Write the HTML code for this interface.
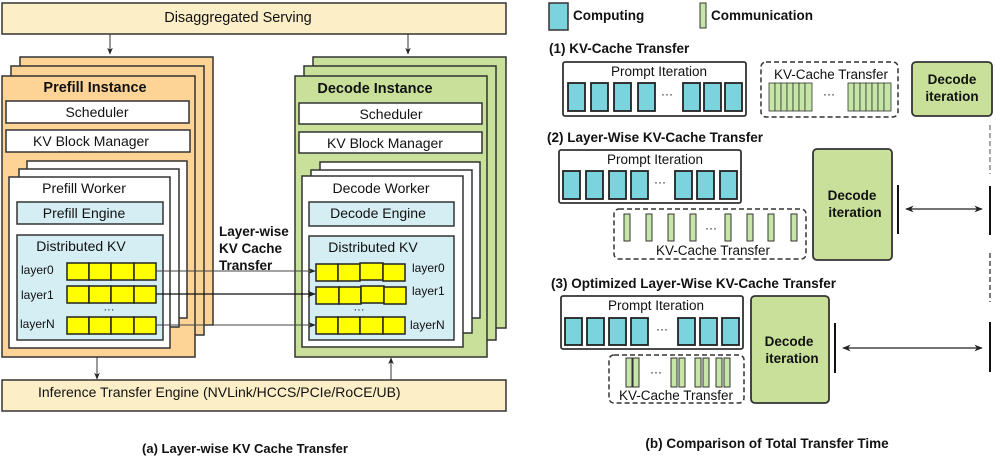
<!DOCTYPE html>
<html><head><meta charset="utf-8"><style>
html,body{margin:0;padding:0;background:#fff;}
svg{display:block;}
text{font-family:"Liberation Sans",sans-serif;fill:#111;}
.b{font-weight:bold;}
</style></head><body>
<svg width="996" height="466" viewBox="0 0 996 466" xmlns="http://www.w3.org/2000/svg">
<defs>
<marker id="ar" viewBox="0 0 10 10" refX="9" refY="5" markerWidth="7" markerHeight="7" orient="auto-start-reverse"><path d="M0,1 L10,5 L0,9 L3,5 z" fill="#222"/></marker>
</defs>
<rect x="2" y="3" width="504" height="31" fill="#fcefc8" stroke="#333" stroke-width="1.5"/>
<text x="238" y="22" font-size="14.5" text-anchor="middle">Disaggregated Serving</text>
<line x1="110" y1="34" x2="110" y2="54" stroke="#333" marker-end="url(#ar)"/>
<line x1="408" y1="34" x2="408" y2="54" stroke="#333" marker-end="url(#ar)"/>

<rect x="20" y="57" width="193" height="268" fill="#fdd495" stroke="#333" stroke-width="1.5"/>
<rect x="11" y="66" width="193" height="269" fill="#fdd495" stroke="#333" stroke-width="1.5"/>
<rect x="2" y="76" width="193" height="281" fill="#fdd495" stroke="#333" stroke-width="1.5"/>
<text x="95" y="92" font-size="14.5" class="b" text-anchor="middle">Prefill Instance</text>
<rect x="6" y="101" width="183" height="22" fill="#fff" stroke="#333" stroke-width="1.5"/>
<text x="97" y="117" font-size="14" text-anchor="middle">Scheduler</text>
<rect x="6" y="130" width="184" height="22" fill="#fff" stroke="#333" stroke-width="1.5"/>
<text x="91" y="146" font-size="14" text-anchor="middle">KV Block Manager</text>
<rect x="27" y="161" width="160" height="157" fill="#fff" stroke="#333" stroke-width="1.5"/>
<rect x="19" y="169" width="160" height="158" fill="#fff" stroke="#333" stroke-width="1.5"/>
<rect x="9" y="177" width="161" height="171" fill="#fff" stroke="#333" stroke-width="1.5"/>
<text x="84" y="193" font-size="14" text-anchor="middle">Prefill Worker</text>
<rect x="17" y="202" width="146" height="22" fill="#d4eef3" stroke="#333" stroke-width="1.5"/>
<text x="84" y="218" font-size="14" text-anchor="middle">Prefill Engine</text>
<rect x="17" y="235" width="146" height="105" fill="#d4eef3" stroke="#333" stroke-width="1.5"/>
<text x="81" y="251" font-size="14" text-anchor="middle">Distributed KV</text>
<g font-size="12">
<text x="21" y="274">layer0</text>
<text x="21" y="299">layer1</text>
<text x="20" y="328">layerN</text>
</g>
<text x="109" y="313" font-size="11" text-anchor="middle">···</text>
<g fill="#ffff00" stroke="#222" stroke-width="1.5">
<rect x="67" y="263" width="22" height="17"/><rect x="89" y="263" width="22" height="17"/><rect x="111" y="263" width="23" height="17"/><rect x="134" y="263" width="22" height="17"/>
<rect x="67" y="286" width="22" height="17"/><rect x="89" y="286" width="22" height="17"/><rect x="111" y="286" width="23" height="17"/><rect x="134" y="286" width="22" height="17"/>
<rect x="67" y="317" width="22" height="17"/><rect x="89" y="317" width="22" height="17"/><rect x="111" y="317" width="23" height="17"/><rect x="134" y="317" width="22" height="17"/>
</g>

<rect x="313" y="57" width="193" height="271" fill="#c9e09a" stroke="#333" stroke-width="1.5"/>
<rect x="304" y="66" width="192" height="274" fill="#c9e09a" stroke="#333" stroke-width="1.5"/>
<rect x="295" y="76" width="192" height="281" fill="#c9e09a" stroke="#333" stroke-width="1.5"/>
<text x="375" y="93" font-size="14.5" class="b" text-anchor="middle">Decode Instance</text>
<rect x="299" y="103" width="183" height="21" fill="#fff" stroke="#333" stroke-width="1.5"/>
<text x="391" y="119" font-size="14" text-anchor="middle">Scheduler</text>
<rect x="299" y="132" width="183" height="21" fill="#fff" stroke="#333" stroke-width="1.5"/>
<text x="385" y="148" font-size="14" text-anchor="middle">KV Block Manager</text>
<rect x="320" y="162" width="160" height="156" fill="#fff" stroke="#333" stroke-width="1.5"/>
<rect x="311" y="170" width="161" height="163" fill="#fff" stroke="#333" stroke-width="1.5"/>
<rect x="302" y="176" width="161" height="171" fill="#fff" stroke="#333" stroke-width="1.5"/>
<text x="381" y="193" font-size="14" text-anchor="middle">Decode Worker</text>
<rect x="309" y="202" width="145" height="24" fill="#d4eef3" stroke="#333" stroke-width="1.5"/>
<text x="378" y="218" font-size="14" text-anchor="middle">Decode Engine</text>
<rect x="309" y="236" width="145" height="104" fill="#d4eef3" stroke="#333" stroke-width="1.5"/>
<text x="373" y="252" font-size="14" text-anchor="middle">Distributed KV</text>
<g font-size="12">
<text x="412" y="272">layer0</text>
<text x="412" y="295">layer1</text>
<text x="410" y="329">layerN</text>
</g>
<text x="359" y="313" font-size="11" text-anchor="middle">···</text>
<g fill="#ffff00" stroke="#222" stroke-width="1.5">
<rect x="316" y="264" width="22" height="17"/><rect x="338" y="264" width="22" height="17"/><rect x="360" y="263" width="23" height="17"/><rect x="383" y="264" width="22" height="17"/>
<rect x="316" y="287" width="23" height="17"/><rect x="339" y="287" width="22" height="17"/><rect x="361" y="286" width="23" height="17"/><rect x="384" y="287" width="22" height="17"/>
<rect x="316" y="317" width="22" height="17"/><rect x="338" y="317" width="22" height="17"/><rect x="360" y="317" width="23" height="17"/><rect x="383" y="317" width="22" height="17"/>
</g>
<line x1="156" y1="271" x2="315" y2="271" stroke="#444" stroke-width="1" marker-end="url(#ar)"/>
<line x1="156" y1="294" x2="315" y2="294" stroke="#111" stroke-width="1.2" marker-end="url(#ar)"/>
<line x1="156" y1="325" x2="315" y2="325" stroke="#444" stroke-width="1" marker-end="url(#ar)"/>
<g font-size="13.5" class="b">
<text x="219" y="236" class="b">Layer-wise</text>
<text x="219" y="253" class="b">KV Cache</text>
<text x="219" y="270" class="b">Transfer</text>
</g>

<rect x="2" y="380" width="504" height="31" fill="#fcefc8" stroke="#333" stroke-width="1.5"/>
<text x="38" y="397" font-size="14">Inference Transfer Engine (NVLink/HCCS/PCIe/RoCE/UB)</text>
<line x1="97" y1="357" x2="97" y2="379" stroke="#333" marker-end="url(#ar)"/>
<line x1="391" y1="380" x2="391" y2="358" stroke="#333" marker-end="url(#ar)"/>
<text x="245" y="453" font-size="13" class="b" text-anchor="middle">(a) Layer-wise KV Cache Transfer</text>

<rect x="549" y="3" width="19" height="27" fill="#7ad3dd" stroke="#333" stroke-width="1.5"/>
<text x="573" y="20" font-size="13.5" class="b">Computing</text>
<rect x="700" y="3" width="6" height="25" fill="#c5e6a6" stroke="#333" stroke-width="1"/>
<text x="711" y="20" font-size="13.5" class="b">Communication</text>

<text x="549" y="53" font-size="13.5" class="b">(1) KV-Cache Transfer</text>
<rect x="563" y="62" width="183" height="54" rx="2" fill="#fff" stroke="#333" stroke-width="1.8"/>
<text x="659" y="76" font-size="13.5" text-anchor="middle">Prompt Iteration</text>
<g fill="#7ad3dd" stroke="#222" stroke-width="1.8">
<rect x="568" y="83" width="17" height="28"/><rect x="591" y="83" width="17" height="28"/><rect x="614" y="83" width="17" height="28"/><rect x="638" y="83" width="17" height="28"/>
<rect x="683" y="83" width="17" height="28"/><rect x="704" y="83" width="17" height="28"/><rect x="725" y="83" width="17" height="28"/>
</g>
<text x="667" y="98" font-size="12" text-anchor="middle">···</text>
<rect x="761" y="62" width="137" height="55" rx="5" fill="#fff" stroke="#333" stroke-width="1.5" stroke-dasharray="5,3"/>
<text x="831" y="79" font-size="13.5" text-anchor="middle">KV-Cache Transfer</text>
<g fill="#c5e6a6" stroke="#333" stroke-width="0.8">
<rect x="769" y="83" width="6" height="28"/><rect x="775" y="83" width="6" height="28"/><rect x="781" y="83" width="6" height="28"/><rect x="787" y="83" width="6" height="28"/><rect x="793" y="83" width="6" height="28"/><rect x="799" y="83" width="6" height="28"/><rect x="805" y="83" width="7" height="28"/>
<rect x="848" y="83" width="6" height="28"/><rect x="854" y="83" width="6" height="28"/><rect x="860" y="83" width="6" height="28"/><rect x="866" y="83" width="6" height="28"/><rect x="872" y="83" width="6" height="28"/><rect x="878" y="83" width="6" height="28"/><rect x="884" y="83" width="7" height="28"/>
</g>
<text x="829" y="98" font-size="12" text-anchor="middle">···</text>
<rect x="912" y="62" width="80" height="54" rx="4" fill="#c9e09a" stroke="#333" stroke-width="1.8"/>
<text x="952" y="84" font-size="13.5" class="b" text-anchor="middle">Decode</text>
<text x="952" y="101" font-size="13.5" class="b" text-anchor="middle">iteration</text>
<line x1="990" y1="125" x2="990" y2="174" stroke="#888" stroke-width="1.5" stroke-dasharray="5,3"/>

<text x="547" y="142" font-size="13.5" class="b">(2) Layer-Wise KV-Cache Transfer</text>
<rect x="559" y="150" width="182" height="53" rx="2" fill="#fff" stroke="#333" stroke-width="1.8"/>
<text x="655" y="164" font-size="13.5" text-anchor="middle">Prompt Iteration</text>
<g fill="#7ad3dd" stroke="#222" stroke-width="1.8">
<rect x="563" y="171" width="17" height="28"/><rect x="586" y="171" width="17" height="28"/><rect x="609" y="171" width="17" height="28"/><rect x="631" y="171" width="17" height="28"/>
<rect x="675" y="171" width="17" height="28"/><rect x="697" y="171" width="17" height="28"/><rect x="720" y="171" width="17" height="28"/>
</g>
<text x="660" y="186" font-size="12" text-anchor="middle">···</text>
<rect x="614" y="209" width="192" height="50" rx="5" fill="#fff" stroke="#333" stroke-width="1.5" stroke-dasharray="5,3"/>
<g fill="#c5e6a6" stroke="#333" stroke-width="1">
<rect x="624" y="214" width="6" height="27"/><rect x="646" y="214" width="6" height="27"/><rect x="668" y="214" width="6" height="27"/><rect x="690" y="214" width="6" height="27"/>
<rect x="725" y="214" width="6" height="27"/><rect x="747" y="214" width="6" height="27"/><rect x="768" y="214" width="6" height="27"/><rect x="791" y="214" width="6" height="27"/>
</g>
<text x="711" y="232" font-size="12" text-anchor="middle">···</text>
<text x="713" y="255" font-size="13.5" text-anchor="middle">KV-Cache Transfer</text>
<rect x="813" y="149" width="79" height="111" rx="4" fill="#c9e09a" stroke="#333" stroke-width="1.8"/>
<text x="852" y="200" font-size="13.5" class="b" text-anchor="middle">Decode</text>
<text x="855" y="217" font-size="13.5" class="b" text-anchor="middle">iteration</text>
<line x1="898" y1="185" x2="898" y2="234" stroke="#111" stroke-width="2"/>
<line x1="906" y1="209" x2="982" y2="209" stroke="#222" stroke-width="1.2" marker-start="url(#ar)" marker-end="url(#ar)"/>
<line x1="990" y1="186" x2="990" y2="235" stroke="#111" stroke-width="2"/>
<line x1="990" y1="253" x2="990" y2="302" stroke="#222" stroke-width="1.2" stroke-dasharray="5,3"/>

<text x="551" y="288" font-size="13.5" class="b">(3) Optimized Layer-Wise KV-Cache Transfer</text>
<rect x="561" y="296" width="182" height="53" rx="2" fill="#fff" stroke="#333" stroke-width="1.8"/>
<text x="656" y="310" font-size="13.5" text-anchor="middle">Prompt Iteration</text>
<g fill="#7ad3dd" stroke="#222" stroke-width="1.8">
<rect x="565" y="318" width="17" height="27"/><rect x="587" y="318" width="17" height="27"/><rect x="609" y="318" width="17" height="27"/><rect x="631" y="318" width="17" height="27"/>
<rect x="678" y="318" width="17" height="27"/><rect x="700" y="318" width="17" height="27"/><rect x="722" y="318" width="17" height="27"/>
</g>
<text x="662" y="333" font-size="12" text-anchor="middle">···</text>
<rect x="609" y="355" width="135" height="48" rx="5" fill="#fff" stroke="#333" stroke-width="1.5" stroke-dasharray="5,3"/>
<g fill="#c5e6a6" stroke="#333" stroke-width="1">
<rect x="626" y="358" width="6" height="29"/><rect x="633" y="358" width="6" height="29"/>
<rect x="671" y="358" width="6" height="29"/><rect x="679" y="358" width="6" height="29"/>
<rect x="695" y="358" width="6" height="29"/><rect x="703" y="358" width="6" height="29"/>
<rect x="716" y="358" width="6" height="29"/><rect x="724" y="358" width="6" height="29"/>
</g>
<text x="656" y="376" font-size="12" text-anchor="middle">···</text>
<text x="676" y="400" font-size="13.5" text-anchor="middle">KV-Cache Transfer</text>
<rect x="751" y="296" width="78" height="107" rx="4" fill="#c9e09a" stroke="#333" stroke-width="1.8"/>
<text x="789" y="346" font-size="13.5" class="b" text-anchor="middle">Decode</text>
<text x="792" y="363" font-size="13.5" class="b" text-anchor="middle">iteration</text>
<line x1="835" y1="323" x2="835" y2="373" stroke="#111" stroke-width="2"/>
<line x1="843" y1="348" x2="982" y2="348" stroke="#222" stroke-width="1.2" marker-start="url(#ar)" marker-end="url(#ar)"/>
<line x1="990" y1="322" x2="990" y2="372" stroke="#111" stroke-width="2"/>

<text x="767" y="448" font-size="13.5" class="b" text-anchor="middle">(b) Comparison of Total Transfer Time</text>
</svg>
</body></html>
